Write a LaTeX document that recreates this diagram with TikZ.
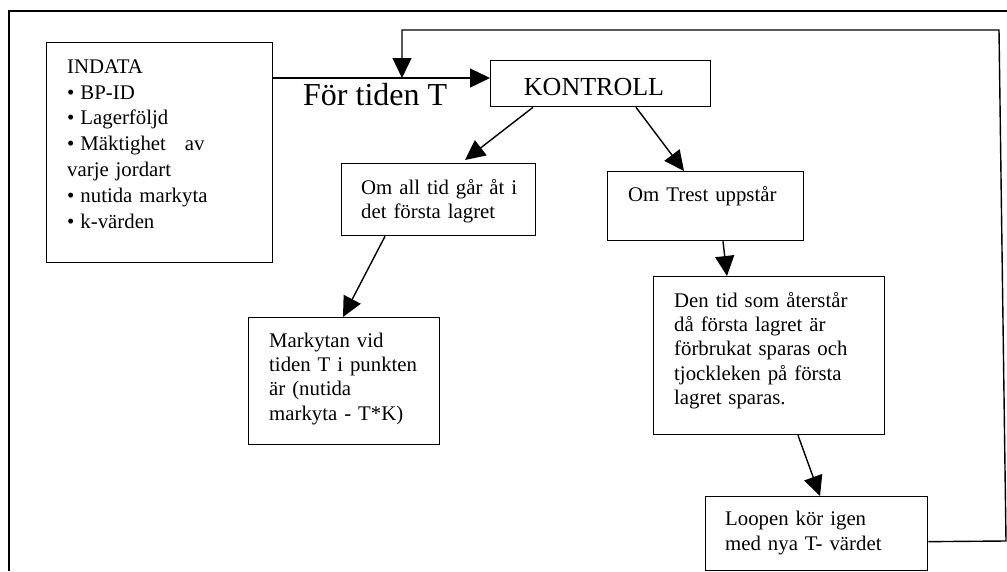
\documentclass[tikz,border=0pt]{standalone}
\usepackage{fontspec}
\setmainfont{Liberation Serif}
\usetikzlibrary{arrows.meta,calc}
\begin{document}
\begin{tikzpicture}[x=1pt,y=-1pt,
  box/.style={draw, line width=1.3pt, rectangle, inner sep=0pt, anchor=north west},
  txt/.style={inner sep=0pt, anchor=north west, align=left, text width=240pt, font=\fontsize{20.8}{24.3}\selectfont},
  arr/.style={line width=1.4pt, line join=miter, -{Triangle[length=20pt,width=19pt]}},
  frame/.style={line width=2pt}
]
\useasboundingbox (0,0) rectangle (1007,571);
% outer frame (cropped)
\draw[frame] (1007,11) -- (9,11) -- (9,571);

% boxes
\node[box, minimum width=226pt, minimum height=220pt] (indata) at (46,42) {};
\node[box, minimum width=220pt, minimum height=46pt] (kontroll) at (490,60) {};
\node[box, minimum width=194pt, minimum height=72pt] (omall) at (341,163) {};
\node[box, minimum width=196pt, minimum height=69pt] (omtrest) at (607,171) {};
\node[box, minimum width=231pt, minimum height=158pt] (dentid) at (653,276) {};
\node[box, minimum width=191pt, minimum height=127pt] (markytan) at (248,317) {};
\node[box, minimum width=222pt, minimum height=74pt] (loopen) at (705,496) {};

% texts
\node[txt, font=\fontsize{20.8}{25.8}\selectfont] (tindata) at (67,55) {\strut INDATA\\
\textbullet\hspace{6pt}BP-ID\\
\textbullet\hspace{6pt}Lagerföljd\\
\textbullet\hspace{6pt}Mäktighet\hspace{12pt} av\\
varje jordart\\
\textbullet\hspace{6pt}nutida markyta\\
\textbullet\hspace{6pt}k-värden};
\node[anchor=base, inner sep=0pt, font=\fontsize{26}{30}\selectfont] (tkontroll) at (594,95) {KONTROLL};
\node[anchor=base west, inner sep=0pt, font=\fontsize{32}{36}\selectfont] (tfor) at (303,105) {För tiden T};
\node[txt] (tomall) at (361,177) {\strut Om all tid går åt i\\det första lagret};
\node[txt] (tomtrest) at (628,184) {\strut Om Trest uppstår};
\node[txt] (tdentid) at (674,290) {\strut Den tid som återstår\\då första lagret är\\förbrukat sparas och\\tjockleken på första\\lagret sparas.};
\node[txt] (tmarkytan) at (269,330) {\strut Markytan vid\\tiden T i punkten\\är (nutida\\markyta - T*K)};
\node[txt] (tloopen) at (725,508.7) {\strut Loopen kör igen\\med nya T- värdet};

% connectors
\draw[arr] (indata.north east) ++(0,36) coordinate (a) -- (a -| kontroll.west);
\draw[arr] ($(kontroll.south west)+(43,0)$) -- ($(omall.north west)+(124,-3)$);
\draw[arr] ($(kontroll.south west)+(146,0)$) -- ($(omtrest.north west)+(77,0)$);
\draw[arr] ($(omall.south west)+(44,0)$) -- ($(markytan.north west)+(95,0)$);
\draw[arr] ($(omtrest.south west)+(116,0)$) -- ($(dentid.north west)+(74,0)$);
\draw[arr] ($(dentid.south west)+(145,0)$) -- ($(loopen.north west)+(115,0)$);

% loop back
\coordinate (lr) at (1006,541);
\coordinate (ur) at (999,30);
\coordinate (ul) at (402,30);
\coordinate (loopin) at (402,78);
\draw[arr] ([yshift=-8pt]loopen.east) -- (lr) -- (ur) -- (ul) -- (loopin);
\end{tikzpicture}
\end{document}
